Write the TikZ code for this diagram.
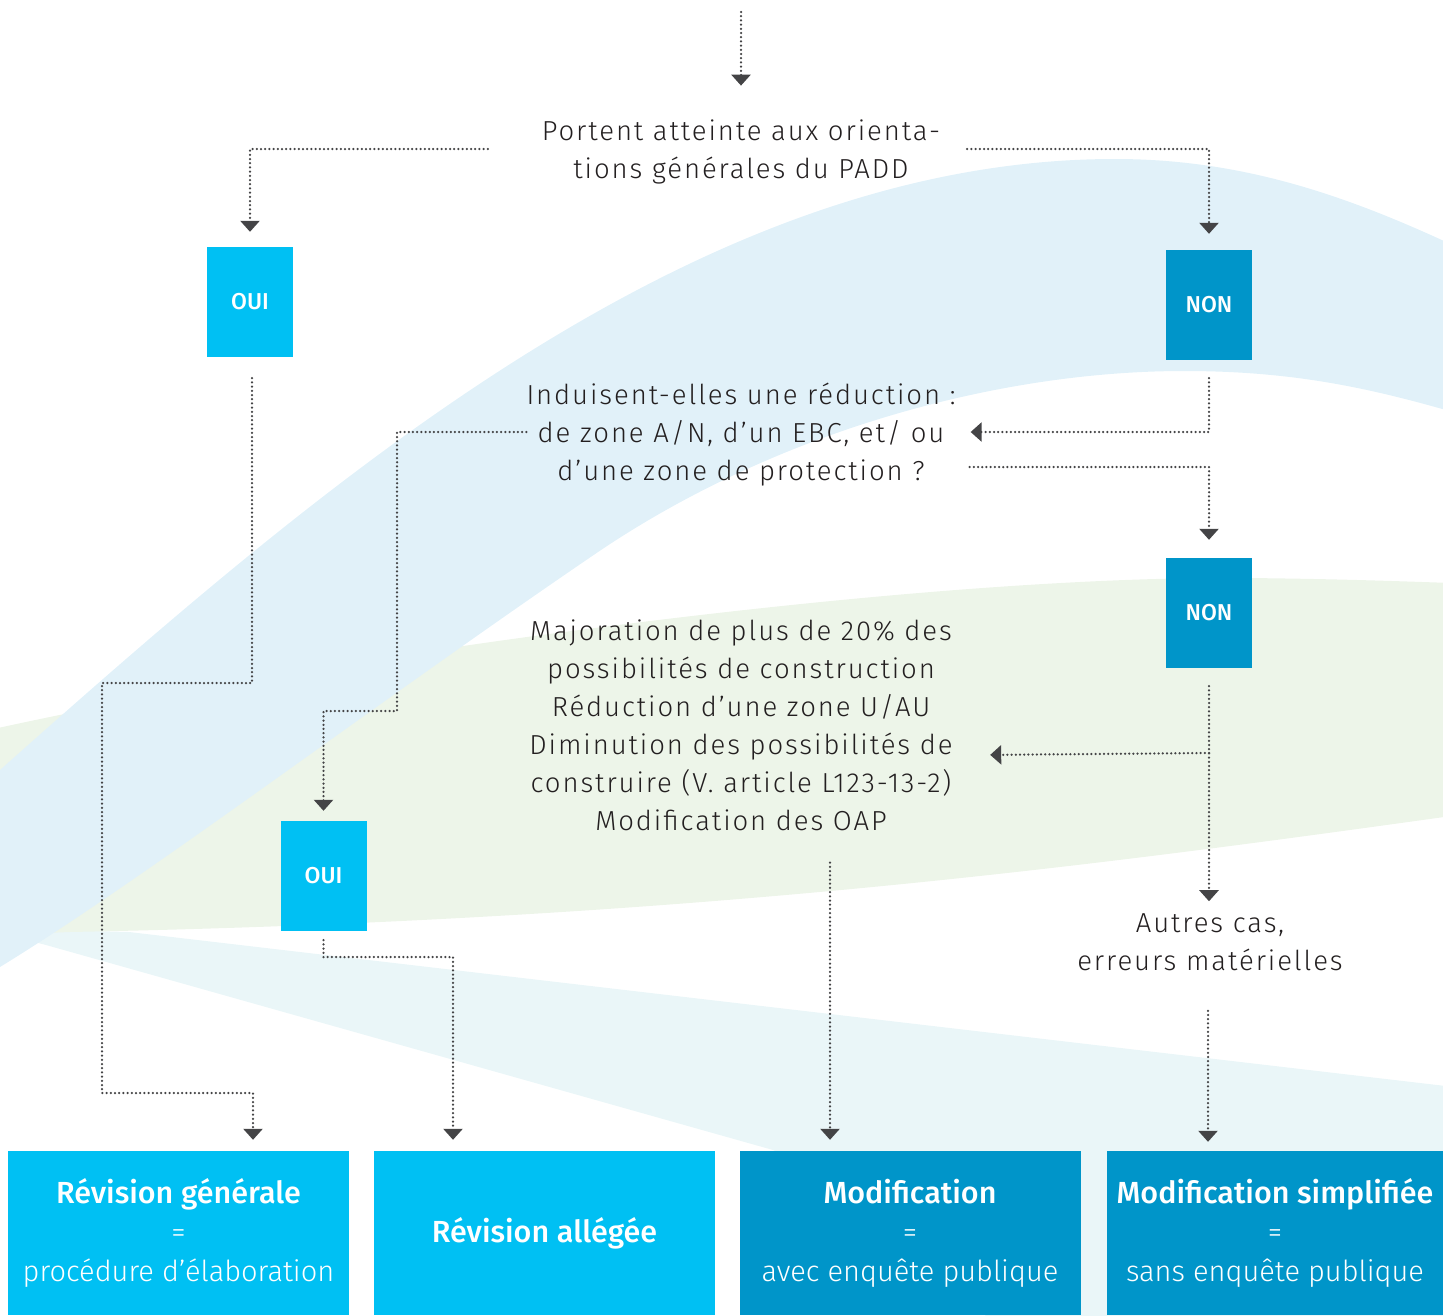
\documentclass[tikz,border=0pt]{standalone}
\usepackage{fontspec}
\setmainfont{Fira Sans}[UprightFont={* Light},BoldFont={* Medium}]
\usepackage{tikz}
\usetikzlibrary{arrows.meta,positioning,calc}
\definecolor{ink}{HTML}{231F20}
\definecolor{linegray}{HTML}{444446}
\definecolor{cyanbox}{HTML}{00C0F3}
\definecolor{bluebox}{HTML}{0095C9}
\definecolor{bandblue}{HTML}{E1F1F9}
\definecolor{bandgreen}{HTML}{EDF5E9}
\definecolor{bandpale}{HTML}{EAF6F8}
\newcommand\qfont{\fontsize{27.5}{38}\selectfont\addfontfeatures{LetterSpace=7}}
\newcommand\ttl[1]{{\fontsize{30.5}{39}\selectfont\bfseries #1}}
\tikzset{
  qtext/.style  ={align=center,inner sep=0pt,text=ink,font=\qfont},
  ouibox/.style ={fill=cyanbox,text=white,minimum width=86pt,minimum height=110pt,inner sep=0pt,font=\fontsize{23}{28}\selectfont\bfseries},
  nonbox/.style ={ouibox,fill=bluebox},
  endbox/.style ={fill=cyanbox,text=white,minimum width=341pt,minimum height=164pt,inner sep=0pt,align=center,font=\fontsize{29}{39}\selectfont},
  enddark/.style={endbox,fill=bluebox},
  flow/.style   ={draw=linegray,line width=2.5pt,line cap=round,dash pattern=on 0pt off 4.2pt,-{Triangle[width=19pt,length=11pt]}},
}

\begin{document}
\begin{tikzpicture}[x=1pt,y=-1pt]
  \useasboundingbox (0,0) rectangle (1443,1315);
  % background swooshes
  \fill[bandpale] (-20,928) -- (129,932) -- (1480,1090) -- (1480,1330) -- (1000,1330)
    .. controls (900,1230) and (820,1170) .. (773,1150) -- (46,945) -- cycle;
  \fill[bandgreen] (-20,732) .. controls (300,660) and (900,575) .. (1246,578)
    .. controls (1350,579) and (1420,582) .. (1480,584) -- (1480,812)
    .. controls (1100,865) and (700,920) .. (69,932) -- (-20,936) -- cycle;
  \fill[bandblue] (-20,788) -- (0,770) .. controls (330,476) and (700,159) .. (1115,159)
    .. controls (1250,159) and (1360,200) .. (1480,258) -- (1480,420)
    .. controls (1380,390) and (1300,371) .. (1184,371)
    .. controls (1000,371) and (780,430) .. (601,550)
    .. controls (380,700) and (150,875) .. (0,967) -- (-20,980) -- cycle;

  \node[qtext,minimum width=452pt] (q1) at (741,152) {Portent atteinte aux orienta-\\tions générales du PADD};
  \node[ouibox] (oui1) at (250,302) {OUI};
  \node[nonbox] (non1) at (1209,305) {NON};
  \node[qtext,minimum width=424pt] (q2) at (741,435) {Induisent-elles une réduction :\\de zone A/N, d’un EBC, et/ ou\\d’une zone de protection ?};
  \node[nonbox] (non2) at (1209,613) {NON};
  \node[qtext,minimum width=474pt] (q3) at (741,725) {Majoration de plus de 20\% des\\possibilités de construction\\Réduction d’une zone U/AU\\Diminution des possibilités de\\construire (V. article L123-13-2)\\Modification des OAP};
  \node[ouibox] (oui2) at (323.5,876) {OUI};
  \node[qtext] (autres) at (1210,942) {Autres cas,\\erreurs matérielles};
  \node[endbox] (rg) at (178.5,1233) {\ttl{Révision générale}\\=\\procédure d’élaboration};
  \node[endbox] (ra) at (544.5,1233) {\ttl{Révision allégée}};
  \node[enddark] (mod) at (910,1233) {\ttl{Modification}\\=\\avec enquête publique};
  \node[enddark,minimum width=336pt] (mods) at (1275,1233) {\ttl{Modification simplifiée}\\=\\sans enquête publique};

  \coordinate (top) at (741,12);
  \coordinate (fork) at (1209,753);
  \draw[flow,shorten >=34pt] (top) -- (q1.north);
  \draw[flow,shorten >=15pt] ([xshift=-27pt,yshift=3pt]q1.west) -| (oui1.north);
  \draw[flow,shorten >=16pt] ([yshift=3pt]q1.east) -| (non1.north);
  \draw[flow,shorten <=21pt,shorten >=11pt] ([xshift=2pt]oui1.south) |- (102,683) |- (253,1093) -- ([xshift=74.5pt]rg.north);
  \draw[flow,shorten <=18pt,shorten >=15pt] (non1.south) |- ([yshift=3pt]q2.east);
  \draw[flow,shorten >=10pt] ([yshift=3pt]q2.west) -| (397,711) -| (oui2.north);
  \draw[flow,shorten >=18pt] ([xshift=14pt,yshift=-32pt]q2.east) -| (non2.north);
  \draw[flow,shorten <=18pt,shorten >=12pt] (non2.south) -- (autres.north -| non2.south);
  \draw[flow,shorten >=12pt] (fork) -- ([yshift=-30pt]q3.east);
  \draw[flow,shorten <=9pt,shorten >=11pt] (oui2.south) |- (453,957) -- ([xshift=-91.5pt]ra.north);
  \draw[flow,shorten <=32pt,shorten >=11pt] ([xshift=89pt]q3.south) -- ([xshift=-80pt]mod.north);
  \draw[flow,shorten <=40pt,shorten >=9pt] ([xshift=-2pt]autres.south) -- ([xshift=-67pt]mods.north);
\end{tikzpicture}
\end{document}
